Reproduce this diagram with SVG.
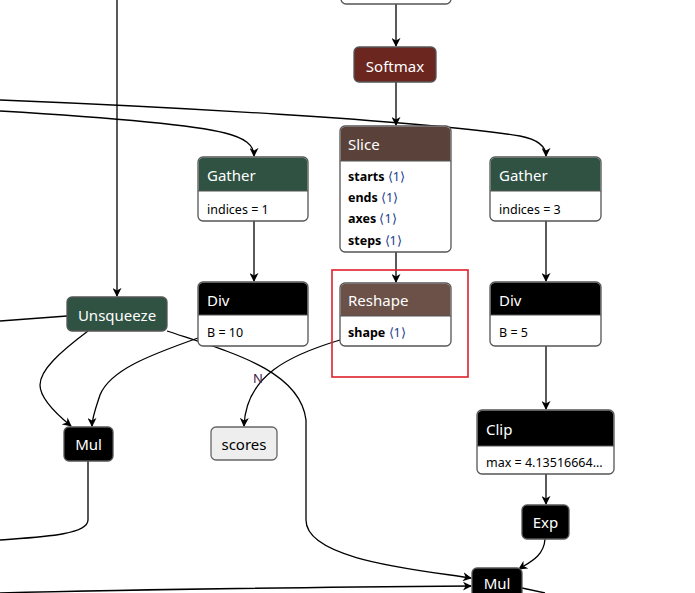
<svg xmlns="http://www.w3.org/2000/svg" width="695" height="593" viewBox="0 0 695 593">
<defs>
<marker id="arr" viewBox="0 0 10 10" refX="9" refY="5" markerWidth="9" markerHeight="9" markerUnits="userSpaceOnUse" orient="auto">
<path d="M0,0 L10,5 L0,10 L3,5 Z" fill="#000"/>
</marker>
<style>
.e{fill:none;stroke:#000;stroke-width:1.3}
.a{marker-end:url(#arr)}
.box{stroke:#555;stroke-width:1.3}
.t{font-family:"Noto Sans","Open Sans",sans-serif;font-size:15px;fill:#fff}
.tc{text-anchor:middle}
.b{font-family:"Noto Sans","Open Sans",sans-serif;font-size:12.5px;fill:#000}
.bb{font-weight:bold}
.ang{fill:#203a8a}
</style>
</defs>
<rect width="695" height="593" fill="#fff"/>
<g id="edges">
<path class="e a" d="M396,4 V46"/>
<path class="e a" d="M396,82 V125"/>
<path class="e a" d="M396,252 V282"/>
<path class="e a" d="M254,221 V281"/>
<path class="e a" d="M546,221 V281"/>
<path class="e a" d="M546,346 V409"/>
<path class="e a" d="M546,474 V504"/>
<path class="e a" d="M545,539 C544,556 530,562 519,569"/>
<path class="e a" d="M117,0 V296"/>
<path class="e" d="M0,321 L67,316"/>
<path class="e a" d="M0,100 C150,106 420,120 520,136 C540,140 546,148 546,156"/>
<path class="e a" d="M0,111 C100,117 190,124 225,133 C245,138 254,145 254,156"/>
<path class="e a" d="M88,331 C60,352 40,370 40,385 C40,400 60,417 71,426"/>
<path class="e a" d="M198,338 C150,355 110,370 100,395 C95,410 92,418 92,426"/>
<path class="e a" d="M167,331 C230,352 300,370 306,420 V520 C306,560 420,570 471,578"/>
<path class="e a" d="M340,340 C290,355 246,375 244,426"/>
<path class="e" d="M88,461 V520 C88,535 40,537 0,540"/>
<path class="e a" d="M0,593 C150,589 350,587 471,586"/>
<path class="e" d="M522,588 L545,593"/>
</g>
<text x="258" y="383" style="font-family:'Noto Sans',sans-serif;font-size:13px;fill:#3a2048" text-anchor="middle">N</text>
<g id="top">
<rect class="box" x="341" y="-20" width="110" height="24" rx="5" fill="#fff"/>
</g>
<g id="softmax">
<rect class="box" x="354" y="47" width="82" height="35" rx="5" fill="#6b2620"/>
<text class="t tc" x="395" y="72">Softmax</text>
</g>
<g id="slice">
<rect class="box" x="340" y="126" width="111" height="126" rx="5" fill="#fff"/>
<path d="M340.7,161 V131 A5,5 0 0 1 345,126.7 H446 A5,5 0 0 1 450.3,131 V161 Z" fill="#5a423b"/>
<line x1="340" y1="161" x2="451" y2="161" stroke="#555" stroke-width="1"/>
<text class="t" x="348" y="150">Slice</text>
<text class="b" x="348" y="181"><tspan class="bb">starts</tspan> <tspan class="ang">⟨1⟩</tspan></text>
<text class="b" x="348" y="202"><tspan class="bb">ends</tspan> <tspan class="ang">⟨1⟩</tspan></text>
<text class="b" x="348" y="223"><tspan class="bb">axes</tspan> <tspan class="ang">⟨1⟩</tspan></text>
<text class="b" x="348" y="245"><tspan class="bb">steps</tspan> <tspan class="ang">⟨1⟩</tspan></text>
</g>
<g id="reshape">
<rect class="box" x="340" y="283" width="111" height="63" rx="5" fill="#fff"/>
<path d="M340.7,316 V288 A5,5 0 0 1 345,283.7 H446 A5,5 0 0 1 450.3,288 V316 Z" fill="#6b5148"/>
<line x1="340" y1="316" x2="451" y2="316" stroke="#555" stroke-width="1"/>
<text class="t" x="348" y="306">Reshape</text>
<text class="b" x="348" y="337"><tspan class="bb">shape</tspan> <tspan class="ang">⟨1⟩</tspan></text>
</g>
<rect x="332" y="270" width="136" height="107" fill="none" stroke="#e0202a" stroke-width="1.6"/>
<g id="gather1">
<rect class="box" x="198" y="157" width="110" height="64" rx="5" fill="#fff"/>
<path d="M198.7,191 V162 A5,5 0 0 1 203,157.7 H303 A5,5 0 0 1 307.3,162 V191 Z" fill="#2f5242"/>
<line x1="198" y1="191" x2="308" y2="191" stroke="#555" stroke-width="1"/>
<text class="t" x="207" y="181">Gather</text>
<text class="b" x="207" y="214">indices = 1</text>
</g>
<g id="div1">
<rect class="box" x="198" y="282" width="110" height="64" rx="5" fill="#fff"/>
<path d="M198.7,315 V287 A5,5 0 0 1 203,282.7 H303 A5,5 0 0 1 307.3,287 V315 Z" fill="#000"/>
<line x1="198" y1="315" x2="308" y2="315" stroke="#555" stroke-width="1"/>
<text class="t" x="207" y="306">Div</text>
<text class="b" x="207" y="337">B = 10</text>
</g>
<g id="gather2">
<rect class="box" x="490" y="157" width="111" height="64" rx="5" fill="#fff"/>
<path d="M490.7,191 V162 A5,5 0 0 1 495,157.7 H596 A5,5 0 0 1 600.3,162 V191 Z" fill="#2f5242"/>
<line x1="490" y1="191" x2="601" y2="191" stroke="#555" stroke-width="1"/>
<text class="t" x="499" y="181">Gather</text>
<text class="b" x="499" y="214">indices = 3</text>
</g>
<g id="div2">
<rect class="box" x="490" y="282" width="111" height="64" rx="5" fill="#fff"/>
<path d="M490.7,315 V287 A5,5 0 0 1 495,282.7 H596 A5,5 0 0 1 600.3,287 V315 Z" fill="#000"/>
<line x1="490" y1="315" x2="601" y2="315" stroke="#555" stroke-width="1"/>
<text class="t" x="499" y="306">Div</text>
<text class="b" x="499" y="337">B = 5</text>
</g>
<g id="clip">
<rect class="box" x="477" y="410" width="137" height="64" rx="5" fill="#fff"/>
<path d="M477.7,446 V415 A5,5 0 0 1 482,410.7 H609 A5,5 0 0 1 613.3,415 V446 Z" fill="#000"/>
<line x1="477" y1="446" x2="614" y2="446" stroke="#555" stroke-width="1"/>
<text class="t" x="486" y="435">Clip</text>
<text class="b" x="486" y="467">max = 4.13516664...</text>
</g>
<g id="exp">
<rect class="box" x="522" y="505" width="47" height="34" rx="5" fill="#000"/>
<text class="t tc" x="545.5" y="528">Exp</text>
</g>
<g id="mul2">
<rect class="box" x="472" y="568" width="50" height="34" rx="5" fill="#000"/>
<text class="t tc" x="497" y="589">Mul</text>
</g>
<g id="unsqueeze">
<rect class="box" x="67" y="297" width="100" height="34" rx="5" fill="#2f5242"/>
<text class="t tc" x="117" y="321">Unsqueeze</text>
</g>
<g id="mul1">
<rect class="box" x="64" y="427" width="49" height="34" rx="5" fill="#000"/>
<text class="t tc" x="88.5" y="450">Mul</text>
</g>
<g id="scores">
<rect x="211" y="427" width="66" height="33" rx="5" fill="#eee" stroke="#666" stroke-width="1.3"/>
<text class="tc" x="244" y="450" style="font-family:'Noto Sans',sans-serif;font-size:15px;fill:#000">scores</text>
</g>
</svg>
